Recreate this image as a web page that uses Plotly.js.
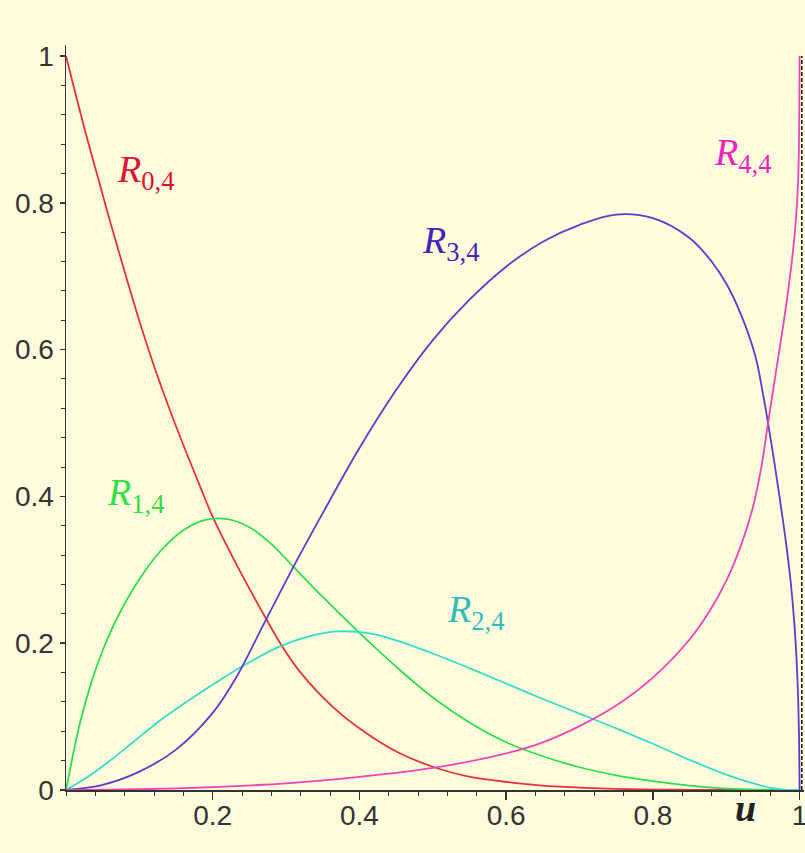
<!DOCTYPE html>
<html>
<head>
<meta charset="utf-8">
<script src="https://cdn.plot.ly/plotly-3.0.1.min.js"></script>
<style>
html,body{margin:0;padding:0;background:#FFFCDD;}
#chart{width:805px;height:853px;}
</style>
</head>
<body>
<div id="chart"></div>
<script>
// Data
var u0 = [0, 0.025, 0.047, 0.060, 0.080, 0.101, 0.124, 0.149, 0.183, 0.200, 0.233, 0.269, 0.292, 0.319, 0.364, 0.410, 0.455, 0.505, 0.546, 0.614, 0.673, 0.75, 0.85, 0.95, 1.0];
var r0 = [1.000, 0.902, 0.822, 0.775, 0.706, 0.636, 0.566, 0.498, 0.413, 0.372, 0.306, 0.240, 0.200, 0.161, 0.113, 0.077, 0.050, 0.030, 0.019, 0.0095, 0.0045, 0.0015, 0.0003, 0.0, 0.0];

var u1 = [0, 0.01, 0.02, 0.035, 0.05, 0.07, 0.10, 0.13, 0.16, 0.19, 0.22, 0.25, 0.28, 0.31, 0.35, 0.40, 0.45, 0.50, 0.55, 0.60, 0.65, 0.70, 0.75, 0.80, 0.85, 0.90, 0.95, 1.0];
var r1 = [0, 0.050, 0.095, 0.148, 0.190, 0.235, 0.287, 0.327, 0.354, 0.368, 0.369, 0.358, 0.335, 0.304, 0.263, 0.214, 0.168, 0.126, 0.092, 0.065, 0.046, 0.031, 0.020, 0.012, 0.006, 0.002, 0.0005, 0];

var u2 = [0, 0.03, 0.06, 0.09, 0.13, 0.17, 0.21, 0.25, 0.29, 0.33, 0.37, 0.41, 0.45, 0.50, 0.55, 0.60, 0.65, 0.70, 0.75, 0.80, 0.85, 0.90, 0.93, 0.96, 0.98, 1.0];
var r2 = [0, 0.018, 0.040, 0.064, 0.096, 0.124, 0.150, 0.174, 0.195, 0.209, 0.216, 0.214, 0.204, 0.186, 0.166, 0.145, 0.124, 0.104, 0.084, 0.063, 0.041, 0.021, 0.011, 0.003, 0.0005, 0];

var u3 = [0, 0.05, 0.10, 0.15, 0.20, 0.233, 0.269, 0.310, 0.346, 0.40, 0.45, 0.50, 0.55, 0.60, 0.65, 0.70, 0.75, 0.80, 0.85, 0.88, 0.90, 0.92, 0.94, 0.95, 0.957, 0.965, 0.973, 0.982, 0.988, 0.993, 0.996, 0.998, 0.9993, 1.0];
var r3 = [0, 0.007, 0.025, 0.055, 0.105, 0.155, 0.225, 0.304, 0.370, 0.466, 0.545, 0.613, 0.668, 0.713, 0.747, 0.770, 0.784, 0.779, 0.752, 0.720, 0.690, 0.648, 0.590, 0.540, 0.500, 0.450, 0.397, 0.333, 0.282, 0.225, 0.175, 0.125, 0.070, 0];

var u4 = [0, 0.1, 0.2, 0.3, 0.4, 0.5, 0.6, 0.65, 0.7, 0.75, 0.8, 0.85, 0.875, 0.9, 0.92, 0.935, 0.947, 0.957, 0.967, 0.978, 0.987, 0.994, 0.998, 1.0];
var r4 = [0, 0.001, 0.004, 0.009, 0.018, 0.030, 0.050, 0.065, 0.087, 0.115, 0.153, 0.205, 0.240, 0.285, 0.333, 0.380, 0.435, 0.500, 0.565, 0.635, 0.700, 0.765, 0.830, 1.0];

var seriesNames = ['R0,4', 'R1,4', 'R2,4', 'R3,4', 'R4,4'];
var lineColors = ['#E63336', '#2EDF4C', '#33DDCC', '#5A3DCC', '#EE44BB'];
var labelColors = ['#DD1133', '#33DD44', '#33BBBB', '#4422BB', '#EE22BB'];
var labelHtml = ['<i>R</i><sub>0,4</sub>', '<i>R</i><sub>1,4</sub>', '<i>R</i><sub>2,4</sub>', '<i>R</i><sub>3,4</sub>', '<i>R</i><sub>4,4</sub>'];
var labelPos = [[0.067, 0.842], [0.053, 0.402], [0.517, 0.243], [0.483, 0.745], [0.881, 0.865]];

var xTickVals = [0.2, 0.4, 0.6, 0.8, 1];
var xTickText = ['0.2', '0.4', '0.6', '0.8', '1'];
var yTickVals = [0, 0.2, 0.4, 0.6, 0.8, 1];
var yTickText = ['0', '0.2', '0.4', '0.6', '0.8', '1'];

var us = [u0, u1, u2, u3, u4];
var rs = [r0, r1, r2, r3, r4];

var traces = us.map(function(u, i){
  return {x: u, y: rs[i], mode: 'lines', name: seriesNames[i],
    line: {color: lineColors[i], width: 1.8, shape: 'spline', smoothing: 1},
    hoverinfo: 'skip'};
});

var annots = labelHtml.map(function(t, i){
  return {x: labelPos[i][0], y: labelPos[i][1], xref: 'x', yref: 'y', text: t,
    showarrow: false, xanchor: 'left', yanchor: 'middle',
    font: {family: 'Liberation Serif, DejaVu Serif, serif', size: 38, color: labelColors[i]}};
});
annots.push({x: 0.926, y: -0.024, xref: 'x', yref: 'paper', text: '<b><i>u</i></b>', showarrow: false,
  xanchor: 'center', yanchor: 'middle',
  font: {family: 'Liberation Serif, DejaVu Serif, serif', size: 38, color: '#222'}});

var tickFont = {family: 'Liberation Sans, Arial, sans-serif', size: 28, color: '#333'};

var layout = {
  width: 805, height: 853,
  margin: {l: 66, r: 1, t: 45, b: 63},
  paper_bgcolor: '#FFFCDD', plot_bgcolor: '#FFFCDD',
  showlegend: false,
  xaxis: {range: [0, 1.006], showgrid: false, zeroline: false, showline: true,
    linecolor: '#333', linewidth: 1.5, ticks: 'outside', ticklen: 8, tickwidth: 1.5, tickcolor: '#333',
    tickvals: xTickVals, ticktext: xTickText, tickfont: tickFont, ticklabelstandoff: -8,
    ticklabeloverflow: 'allow',
    minor: {tick0: 0, dtick: 0.04, ticks: 'outside', ticklen: 4, tickwidth: 1, tickcolor: '#333', showgrid: false}},
  yaxis: {range: [0, 1.015], showgrid: false, zeroline: false, showline: true,
    linecolor: '#333', linewidth: 1.5, ticks: 'outside', ticklen: 5, tickwidth: 1.5, tickcolor: '#333',
    tickvals: yTickVals, ticktext: yTickText, tickfont: tickFont, ticklabeloverflow: 'allow',
    minor: {tick0: 0, dtick: 0.04, ticks: 'outside', ticklen: 4, tickwidth: 1, tickcolor: '#333', showgrid: false}},
  shapes: [{type: 'line', xref: 'x', yref: 'y', x0: 1.003, x1: 1.003, y0: 0, y1: 1.0,
    line: {color: '#111', width: 1.5, dash: '4px,2px'}}],
  annotations: annots
};

Plotly.newPlot('chart', traces, layout, {staticPlot: true, displayModeBar: false});
</script>
</body>
</html>
